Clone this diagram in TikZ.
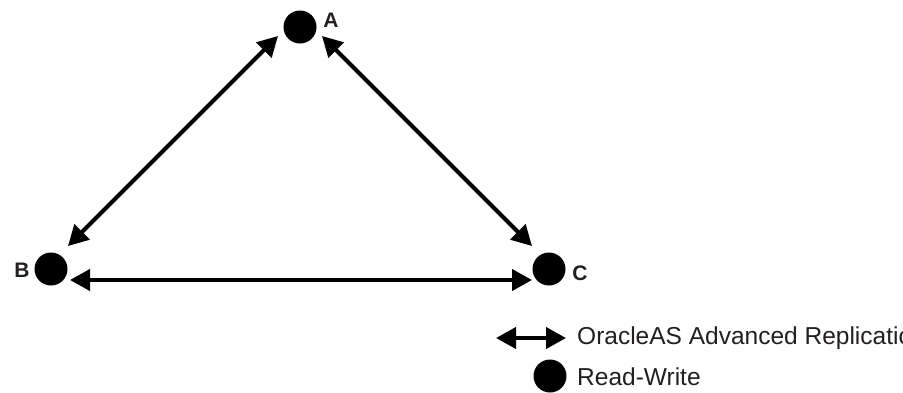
\documentclass[tikz,border=0pt]{standalone}
\usepackage{fontspec}
\setmainfont{Liberation Sans}
\usepackage{xcolor}
\usetikzlibrary{arrows.meta, positioning, calc}
\definecolor{inkgray}{RGB}{35,31,32}
\tikzset{
  site/.style={circle, fill=black, minimum size=33pt, inner sep=0pt, outer sep=0pt},
  sitelabel/.style={font=\fontsize{21}{25}\selectfont\bfseries, text=inkgray, inner sep=0pt},
  repl/.style={{Triangle[length=20pt,width=21pt]}-{Triangle[length=20pt,width=21pt]}, line width=4pt},
  legendtext/.style={font=\fontsize{24.5}{28}\selectfont, text=inkgray, anchor=west, inner sep=0pt}
}
\begin{document}
\begin{tikzpicture}[x=1pt,y=-1pt]
\useasboundingbox (0,0) rectangle (903,392);
% Sites
\node[site] (A) at (300,27) {};
\node[site] (B) at (51,269) {};
\node[site] (C) at (549,269) {};
\node[sitelabel] (labA) at (331,20) {A};
\node[sitelabel] (labB) at (22,270) {B};
\node[sitelabel] (labC) at (580,273) {C};

% Replication links
\draw[repl] ($(A)+(-22,9)$) -- ($(B)+(17,-23)$);
\draw[repl] ($(A)+(22,9)$) -- ($(C)+(-17,-23)$);
\draw[repl] ($(B)+(19,11)$) -- ($(C)+(-17,11)$);

% Legend
\coordinate (legL) at (496,338);
\coordinate (legR) at (566,338);
\draw[repl] (legL) -- (legR);
\node[legendtext] (legRepl) at (577,338) {OracleAS Advanced Replication};
\node[site] (legDot) at (550,376) {};
\node[legendtext] (legRW) at (577,377) {Read-Write};
\end{tikzpicture}
\end{document}
